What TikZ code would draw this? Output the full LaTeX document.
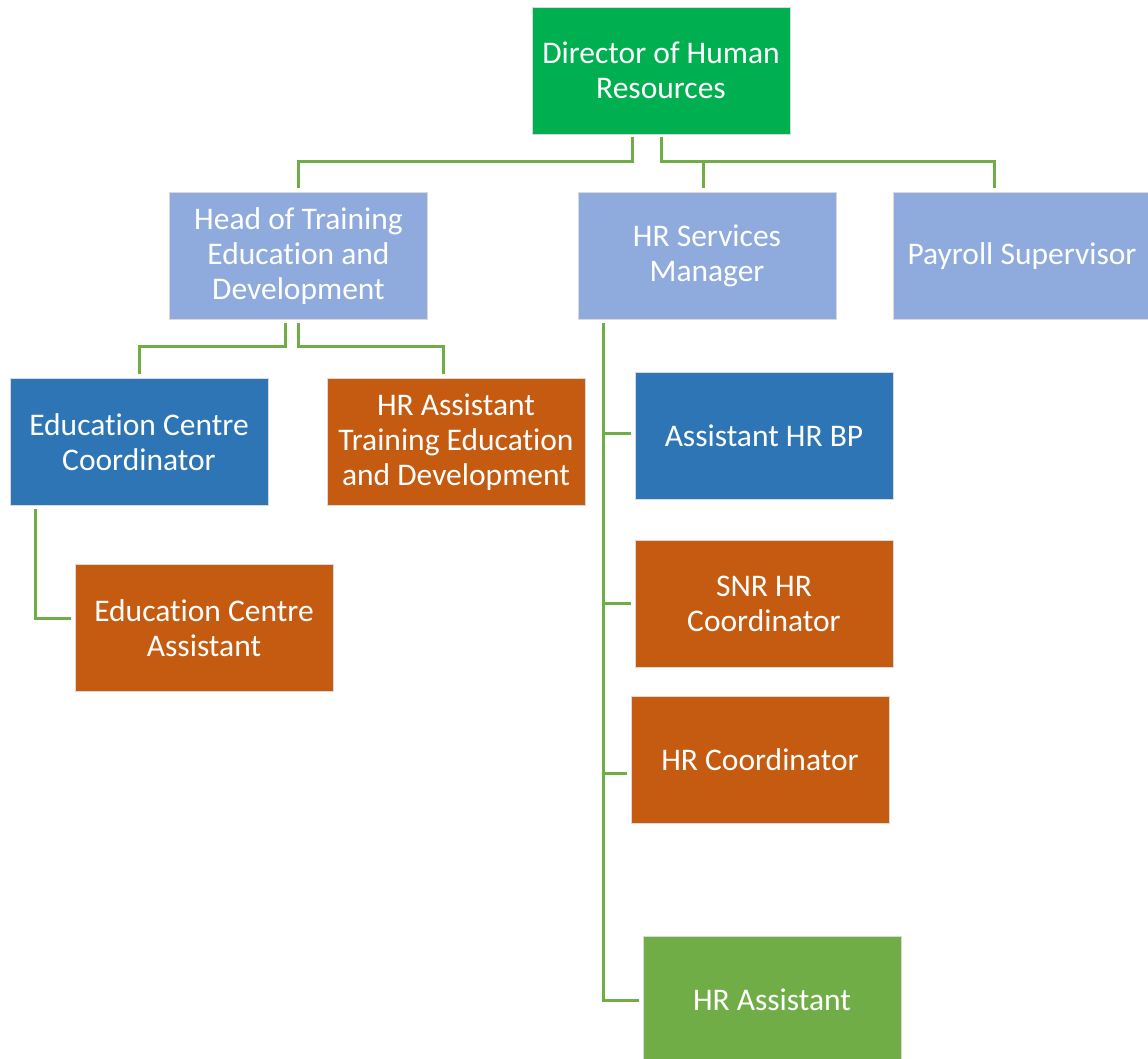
\documentclass[tikz,border=0pt]{standalone}
\usepackage{fontspec}
\setmainfont[Ligatures=NoCommon]{Carlito}
\definecolor{dirgreen}{HTML}{00B050}
\definecolor{lightblue}{HTML}{8FAADC}
\definecolor{midblue}{HTML}{2E75B6}
\definecolor{rust}{HTML}{C55A11}
\definecolor{leaf}{HTML}{70AD47}
\tikzset{
  box/.style={rectangle, draw=white!85!black, line width=0.6pt, text=white,
    minimum width=258pt, minimum height=127pt, inner sep=0pt, align=center,
    font=\fontsize{31.5}{35}\selectfont},
  conn/.style={draw=leaf, line width=3pt, shorten <=3pt, shorten >=4pt}
}
\begin{document}
\begin{tikzpicture}[x=1pt, y=-1pt]
        \useasboundingbox (0,0) rectangle (1148,1059);
        % nodes
        \node(dir) [box, fill=dirgreen] at (661, 70.5) {Director of Human\\Resources};
        \node(head) [box, fill=lightblue] at (298.5, 256) {Head of Training\\Education and\\Development};
        \node(hrs) [box, fill=lightblue] at (707, 256) {HR Services\\Manager};
        \node(pay) [box, fill=lightblue] at (1022, 256) {Payroll Supervisor};
        \node(ecc) [box, fill=midblue] at (139, 442) {Education Centre\\Coordinator};
        \node(hrted) [box, fill=rust] at (456, 442) {HR Assistant\\Training Education\\and Development};
        \node(eca) [box, fill=rust] at (204, 628) {Education Centre\\Assistant};
        \node(bp) [box, fill=midblue] at (764, 435.5) {Assistant HR BP};
        \node(snr) [box, fill=rust] at (764, 603.5) {SNR HR\\Coordinator};
        \node(hrc) [box, fill=rust] at (760, 760) {HR Coordinator};
        \node(hra) [box, fill=leaf] at (772, 1000) {HR Assistant};

        % joints
        \coordinate(trunk) at ([xshift=-104pt]hrs.south);
        \coordinate(bpin) at ([yshift=2pt]bp.west);
        \coordinate(hrcin) at ([yshift=-13pt]hrc.west);
        \coordinate(ecain) at ([yshift=10pt]eca.west);

        %edges
        \draw[conn] ([xshift=-29pt]dir.south) -- ++(0,27) -| (head.north);
        \draw[conn] (dir.south) -- ++(0,27) -| ([xshift=-28pt]pay.north);
        \draw[conn, shorten <=0pt] ([xshift=-4pt]hrs.north |- 0,161) -- ([xshift=-4pt]hrs.north);
        \draw[conn] ([xshift=-13pt]head.south) -- ++(0,27) -| (ecc.north);
        \draw[conn] (head.south) -- ++(0,27) -| ([xshift=-13pt]hrted.north);
        \draw[conn] ([xshift=-104pt]ecc.south) |- (ecain);
        \draw[conn] (trunk) |- (hra.west);
        \draw[conn, shorten <=0pt] (trunk |- bpin) -- (bpin);
        \draw[conn, shorten <=0pt] (trunk |- snr.west) -- (snr.west);
        \draw[conn, shorten <=0pt] (trunk |- hrcin) -- (hrcin);

    \end{tikzpicture}
\end{document}
